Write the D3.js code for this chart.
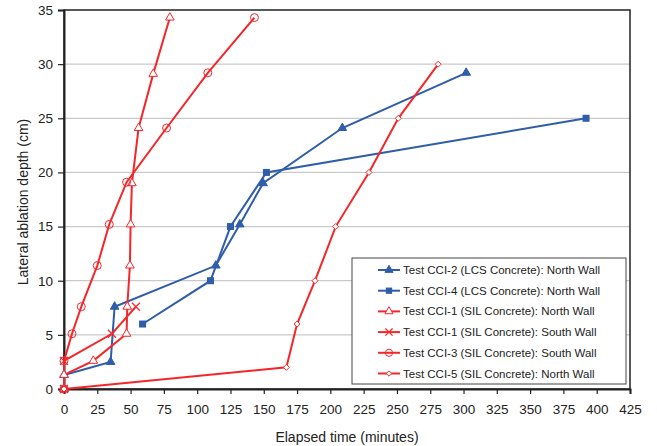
<!DOCTYPE html>
<html>
<head>
<meta charset="utf-8">
<title>Lateral ablation</title>
<script src="https://d3js.org/d3.v7.min.js"></script>
<style>
  body { margin: 0; background: #fff; }
  text { font-family: "Liberation Sans", Arial, sans-serif; fill: #222; }
</style>
</head>
<body>
<svg width="657" height="446"></svg>
<script>
// data (minutes, cm)
var cci2Time  = [0, 0, 35, 38, 114, 132, 149.5, 209, 302];
var cci2Depth = [0, 1.3, 2.5, 7.6, 11.4, 15.2, 19, 24.1, 29.2];
var cci4Time  = [59, 110, 125, 152, 392];
var cci4Depth = [6, 10, 15, 20, 25];
var cci1nTime  = [0, 0, 22, 47, 47.5, 49.5, 50, 51, 56, 67, 79.5];
var cci1nDepth = [0, 1.3, 2.6, 5.1, 7.6, 11.4, 15.2, 19, 24.1, 29.1, 34.3];
var cci1sTime  = [0, 0, 36, 54];
var cci1sDepth = [0, 2.6, 5.1, 7.6];
var cci3Time  = [0, 0, 6, 13, 25, 34, 47, 77, 108, 143];
var cci3Depth = [0, 2.6, 5.1, 7.6, 11.4, 15.2, 19.1, 24.1, 29.2, 34.3];
var cci5Time  = [0, 167, 175, 188.5, 204, 229, 251, 281];
var cci5Depth = [0, 2, 6, 10, 15, 20, 25, 30];

var xTicks = d3.range(0, 426, 25);
var yTicks = d3.range(0, 36, 5);

var blue = "#2f5daa", red = "#f5262a";

var series = [
  {name: "Test CCI-2 (LCS Concrete): North Wall", t: cci2Time, d: cci2Depth, color: blue, marker: "tri", fill: true},
  {name: "Test CCI-4 (LCS Concrete): North Wall", t: cci4Time, d: cci4Depth, color: blue, marker: "sq", fill: true},
  {name: "Test CCI-1 (SIL Concrete): North Wall", t: cci1nTime, d: cci1nDepth, color: red, marker: "tri", fill: false},
  {name: "Test CCI-1 (SIL Concrete): South Wall", t: cci1sTime, d: cci1sDepth, color: red, marker: "x", fill: false},
  {name: "Test CCI-3 (SIL Concrete): South Wall", t: cci3Time, d: cci3Depth, color: red, marker: "circ", fill: false},
  {name: "Test CCI-5 (SIL Concrete): North Wall", t: cci5Time, d: cci5Depth, color: red, marker: "dia", fill: false}
];

var svg = d3.select("svg");
var pLeft = 64, pRight = 630, pTop = 10, pBottom = 389;

var x = d3.scaleLinear().domain([0, 425]).range([pLeft, pRight]);
var y = d3.scaleLinear().domain([0, 35]).range([pBottom, pTop]);

// grid
svg.append("g").selectAll("line")
  .data(yTicks.filter(function(v) { return v > 0 && v < 35; }))
  .enter().append("line")
    .attr("x1", pLeft).attr("x2", pRight)
    .attr("y1", function(d) { return y(d); }).attr("y2", function(d) { return y(d); })
    .attr("stroke", "#c9c9c9").attr("stroke-width", 1.2);

// frame
svg.append("rect")
  .attr("x", pLeft).attr("y", pTop)
  .attr("width", pRight - pLeft).attr("height", pBottom - pTop)
  .attr("fill", "none").attr("stroke", "#222").attr("stroke-width", 1.5);

// axes
var xAxis = svg.append("g")
  .attr("transform", "translate(0," + pBottom + ")")
  .call(d3.axisBottom(x).tickValues(xTicks).tickSize(5).tickPadding(10));
var yAxis = svg.append("g")
  .attr("transform", "translate(" + pLeft + ",0)")
  .call(d3.axisLeft(y).tickValues(yTicks).tickSize(6).tickPadding(5));

[xAxis, yAxis].forEach(function(a) {
  a.select(".domain").attr("stroke", "#222").attr("stroke-width", 2);
  a.selectAll(".tick line").attr("stroke", "#222").attr("stroke-width", 1.2);
  a.selectAll(".tick text")
    .style("font-family", "'Liberation Sans', Arial, sans-serif")
    .style("font-size", "13.5px").attr("fill", "#222");
});

svg.append("text")
  .attr("x", 347).attr("y", 442)
  .attr("text-anchor", "middle")
  .style("font-size", "14px")
  .text("Elapsed time (minutes)");

svg.append("text")
  .attr("transform", "translate(28,202) rotate(-90)")
  .attr("text-anchor", "middle")
  .style("font-size", "14px")
  .text("Lateral ablation depth (cm)");

function drawMarker(g, s, cx, cy, scale) {
  var k = scale || 1;
  var fill = s.fill ? s.color : "#fff";
  if (s.marker === "tri") {
    g.append("path")
      .attr("d", d3.symbol().type(d3.symbolTriangle).size(32 * k)())
      .attr("transform", "translate(" + cx + "," + cy + ")")
      .attr("fill", fill).attr("stroke", s.color).attr("stroke-width", 1);
  } else if (s.marker === "sq") {
    g.append("rect")
      .attr("x", cx - 3.5 * k).attr("y", cy - 3.5 * k)
      .attr("width", 7 * k).attr("height", 7 * k)
      .attr("fill", fill);
  } else if (s.marker === "x") {
    var r = 4 * k;
    g.append("path")
      .attr("d", "M" + (cx - r) + "," + (cy - r) + "L" + (cx + r) + "," + (cy + r) +
                 "M" + (cx - r) + "," + (cy + r) + "L" + (cx + r) + "," + (cy - r))
      .attr("stroke", s.color).attr("stroke-width", 1.2);
  } else if (s.marker === "circ") {
    g.append("circle").attr("cx", cx).attr("cy", cy).attr("r", 4 * k)
      .attr("fill", "none").attr("stroke", s.color).attr("stroke-width", 1);
  } else if (s.marker === "dia") {
    var q = 3 * k;
    g.append("path")
      .attr("d", "M" + cx + "," + (cy - q) + "L" + (cx + q) + "," + cy + "L" + cx + "," + (cy + q) + "L" + (cx - q) + "," + cy + "Z")
      .attr("fill", "#fff").attr("stroke", s.color).attr("stroke-width", 1);
  }
}

var line = d3.line()
  .x(function(p) { return x(p[0]); })
  .y(function(p) { return y(p[1]); });

var plot = svg.append("g");
series.forEach(function(s) {
  var pts = s.t.map(function(t, i) { return [t, s.d[i]]; });
  plot.append("path")
    .attr("d", line(pts))
    .attr("fill", "none").attr("stroke", s.color).attr("stroke-width", 2);
});
series.forEach(function(s) {
  var g = plot.append("g");
  s.t.forEach(function(t, i) { drawMarker(g, s, x(t), y(s.d[i])); });
});

// legend
var lg = svg.append("g");
lg.append("rect")
  .attr("x", 352).attr("y", 258).attr("width", 274).attr("height", 126)
  .attr("fill", "#fff").attr("stroke", "#444").attr("stroke-width", 1);
series.forEach(function(s, i) {
  var ly = 270 + i * 20.7;
  lg.append("line")
    .attr("x1", 378).attr("x2", 400).attr("y1", ly).attr("y2", ly)
    .attr("stroke", s.color).attr("stroke-width", 2);
  drawMarker(lg, s, 389, ly, 0.9);
  lg.append("text")
    .attr("x", 403).attr("y", ly + 4)
    .style("font-size", "11.5px")
    .text(s.name);
});
</script>
</body>
</html>
